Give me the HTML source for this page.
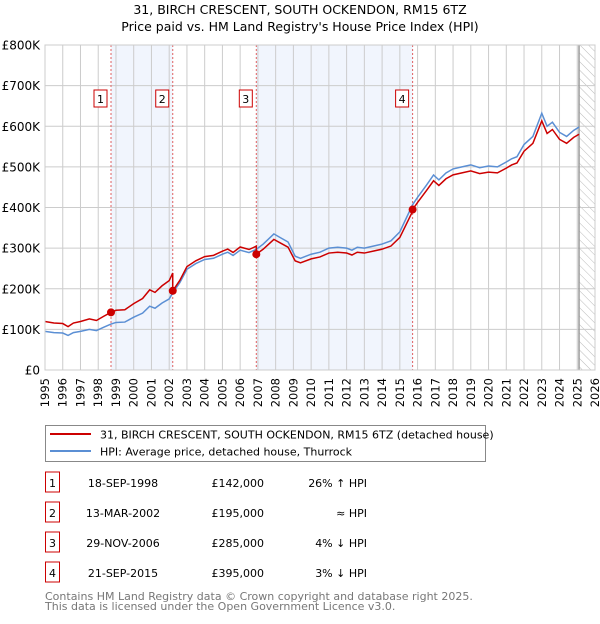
<!DOCTYPE html>
<html><head><meta charset="utf-8"><style>
body{margin:0;background:#fff;width:600px;height:620px;overflow:hidden;font-family:"DejaVu Sans","Liberation Sans",sans-serif}
svg text{font-family:"DejaVu Sans","Liberation Sans",sans-serif}
</style></head><body>
<svg id="chart" width="600" height="620" xmlns="http://www.w3.org/2000/svg">
<defs><pattern id="hatch" width="6" height="6" patternUnits="userSpaceOnUse" patternTransform="rotate(-45)"><line x1="0" y1="0" x2="0" y2="6" stroke="#bbb" stroke-width="1"/></pattern></defs>
<text x="300" y="14" text-anchor="middle" font-size="12.5" fill="#000">31, BIRCH CRESCENT, SOUTH OCKENDON, RM15 6TZ</text>
<text x="300" y="31" text-anchor="middle" font-size="12.5" fill="#000">Price paid vs. HM Land Registry's House Price Index (HPI)</text>
<g id="plot"></g>
<g>
<rect x="45.5" y="425.5" width="440" height="36" fill="#fff" stroke="#888"/>
<line x1="50" y1="434" x2="91" y2="434" stroke="#cc0000" stroke-width="2"/>
<text x="100" y="438.5" font-size="11">31, BIRCH CRESCENT, SOUTH OCKENDON, RM15 6TZ (detached house)</text>
<line x1="50" y1="451" x2="91" y2="451" stroke="#5b8fd4" stroke-width="2"/>
<text x="100" y="455.5" font-size="11">HPI: Average price, detached house, Thurrock</text>
</g>
<g id="table" font-size="11"></g>
<text x="45" y="600" font-size="11" fill="#777">Contains HM Land Registry data © Crown copyright and database right 2025.</text>
<text x="45" y="610" font-size="11" fill="#777">This data is licensed under the Open Government Licence v3.0.</text>
</svg>
<script>
const hpiYears=[1995,1995.5,1996,1996.3,1996.6,1997,1997.5,1997.9,1998.3,1998.72,1999,1999.5,2000,2000.5,2000.9,2001.2,2001.6,2002,2002.2,2002.6,2003,2003.5,2004,2004.5,2005,2005.3,2005.6,2006,2006.5,2006.91,2007.3,2007.9,2008.3,2008.7,2009.1,2009.4,2010,2010.5,2011,2011.5,2012,2012.3,2012.6,2013,2013.5,2014,2014.5,2015,2015.72,2016,2016.5,2016.9,2017.2,2017.6,2018,2018.5,2019,2019.5,2020,2020.5,2021,2021.3,2021.6,2022,2022.5,2023,2023.3,2023.6,2024,2024.4,2024.8,2025.1];
const hpiValues=[95,92,91,85,92,95,100,97,105,113,117,118,130,140,157,152,165,175,190,215,248,262,272,275,285,290,282,295,289,297,310,335,325,315,280,275,285,290,300,302,300,295,302,300,305,310,318,340,407,425,455,480,468,485,495,500,505,498,502,500,512,520,525,555,575,632,600,610,585,575,590,598];
const saleYears=[1998.72,2002.2,2006.91,2015.72];
const salePrices=[142,195,285,395];
const saleLabels=["1","2","3","4"];
const saleDates=["18-SEP-1998","13-MAR-2002","29-NOV-2006","21-SEP-2015"];
const salePriceText=["£142,000","£195,000","£285,000","£395,000"];
const saleHpiText=["26% ↑ HPI","≈ HPI","4% ↓ HPI","3% ↓ HPI"];
const yTicks=[0,100,200,300,400,500,600,700,800];
const yTickLabels=["£0","£100K","£200K","£300K","£400K","£500K","£600K","£700K","£800K"];
const xTicks=[1995,1996,1997,1998,1999,2000,2001,2002,2003,2004,2005,2006,2007,2008,2009,2010,2011,2012,2013,2014,2015,2016,2017,2018,2019,2020,2021,2022,2023,2024,2025,2026];

const L=45,R=595,T=45,B=370;
const xs=y=>L+(y-1995)/(2026-1995)*(R-L);
const ys=v=>B-v/800*(B-T);
const NS="http://www.w3.org/2000/svg";
const plot=document.getElementById('plot');
function mk(tag,attrs,parent){const e=document.createElementNS(NS,tag);for(const k in attrs)e.setAttribute(k,attrs[k]);(parent||plot).appendChild(e);return e;}
function hpiAt(t){if(t<=hpiYears[0])return hpiValues[0];for(let i=1;i<hpiYears.length;i++){if(t<=hpiYears[i]){const f=(t-hpiYears[i-1])/(hpiYears[i]-hpiYears[i-1]);return hpiValues[i-1]+f*(hpiValues[i]-hpiValues[i-1]);}}return hpiValues[hpiValues.length-1];}

for(const [a,b] of [[0,1],[2,3]]){
 const r=mk('rect',{x:xs(saleYears[a]),y:T,width:xs(saleYears[b])-xs(saleYears[a]),height:B-T,fill:'#eef3fd',opacity:0.8});
 
 
}
const h=mk('rect',{x:xs(2025.1),y:T,width:R-xs(2025.1),height:B-T,fill:'url(#hatch)'});


xTicks.forEach((t,i)=>{
 const g=mk('line',{x1:xs(t),x2:xs(t),y1:T,y2:B,stroke:'#ccc','stroke-width':1});
 
 
 const x=xs(t)+4;
 const tx=mk('text',{x:x,y:378,'font-size':11.5,'text-anchor':'end',transform:`rotate(-90 ${x} 378)`});
 tx.textContent=t;
 
 
});
yTicks.forEach((v,i)=>{
 const g=mk('line',{x1:L,x2:R,y1:ys(v),y2:ys(v),stroke:'#ccc','stroke-width':1});
 
 
 const tx=mk('text',{x:40,y:ys(v)+4.5,'font-size':12,'text-anchor':'end'});
 tx.textContent=yTickLabels[i];
 
 
});
const ed=mk('line',{x1:xs(2025.1),x2:xs(2025.1),y1:T,y2:B,stroke:'#999','stroke-width':1.5});


saleYears.forEach((s,i)=>{
 const l=mk('line',{x1:xs(s),x2:xs(s),y1:T,y2:B,stroke:'#e06060','stroke-width':1,'stroke-dasharray':'2,2'});
 
 
 const bx=mk('rect',{x:xs(s)-17,y:90,width:13,height:17,fill:'#fff',stroke:'#cc0000'});
 
 
 const tx=mk('text',{x:xs(s)-10.5,y:103,'font-size':11,'text-anchor':'middle'});
 tx.textContent=saleLabels[i];
 
 
});
const hp=mk('polyline',{points:hpiYears.map((t,i)=>xs(t)+','+ys(hpiValues[i])).join(' '),fill:'none',stroke:'#5b8fd4','stroke-width':1.5});


let seq=[];
hpiYears.forEach((t,i)=>seq.push({t,v:hpiValues[i]}));
saleYears.forEach((s,k)=>{if(k>0)seq.push({t:s-0.001,v:hpiAt(s-0.001),k:k-1});});
seq.sort((a,b)=>a.t-b.t);
const redPts=seq.map(p=>{let k=p.k;if(k===undefined){k=0;for(let j=0;j<saleYears.length;j++)if(p.t>=saleYears[j])k=j;}return xs(p.t)+','+ys(p.v*salePrices[k]/hpiAt(saleYears[k]));});
const pl=mk('polyline',{points:redPts.join(' '),fill:'none',stroke:'#cc0000','stroke-width':1.5});


saleYears.forEach((s,i)=>{
 const c=mk('circle',{cx:xs(s),cy:ys(salePrices[i]),r:4,fill:'#cc0000'});
 
 
});
const ax=mk('rect',{x:L,y:T,width:R-L,height:B-T,fill:'none',stroke:'#ccc'});


const tb=document.getElementById('table');
saleLabels.forEach((lab,i)=>{
 const y=483+i*30;
 const b=mk('rect',{x:45.5,y:y-11,width:14,height:20,fill:'#fff',stroke:'#cc0000'},tb);
 
 
 const cells=[[52.5,'middle',lab,'table-row-number'],[123,'middle',saleDates[i],'table-date'],[264,'end',salePriceText[i],'table-price'],[367,'end',saleHpiText[i],'table-hpi-diff']];
 cells.forEach(c=>{
  const t=mk('text',{x:c[0],y:y+4,'text-anchor':c[1]},tb);
  t.textContent=c[2];
  
  
 });
});
</script>
</body></html>
